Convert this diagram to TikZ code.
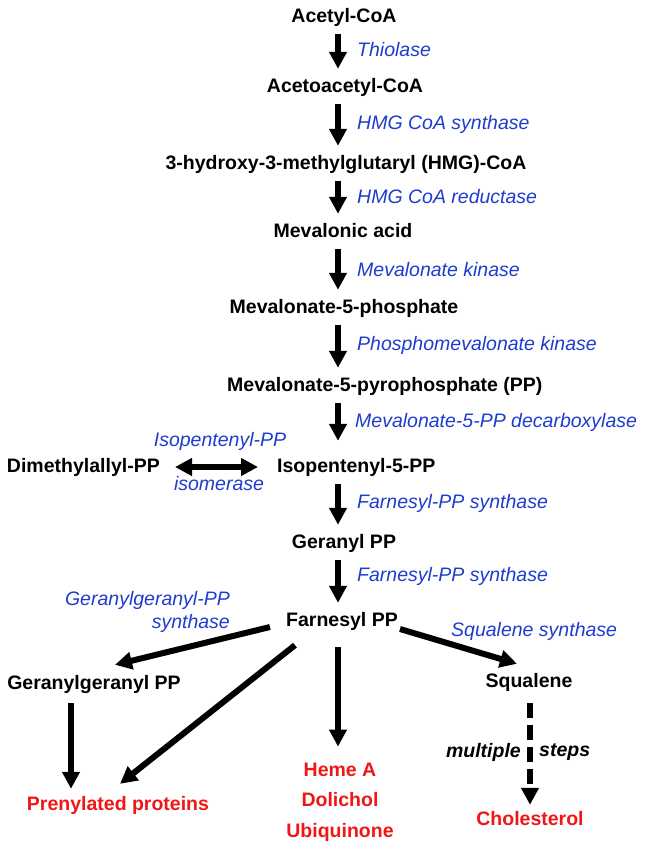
\documentclass[tikz,border=0pt]{standalone}
\usepackage{fontspec}
\setmainfont{Liberation Sans}
\usetikzlibrary{arrows.meta}
\definecolor{enzblue}{RGB}{30,60,205}
\definecolor{prodred}{RGB}{240,22,22}
\begin{document}
\begin{tikzpicture}[x=1pt, y=-1pt, font=\fontsize{19.5}{23.5}\selectfont,
      >={Triangle[length=17pt,width=17pt]},
      cmpd/.style={font=\fontsize{19.5}{23.5}\selectfont\bfseries, inner sep=0pt, text height=14pt, text depth=4pt},
      endprod/.style={cmpd, text=prodred},
      enz/.style={text=enzblue, font=\fontsize{19.5}{23.5}\selectfont\itshape, inner sep=0pt, anchor=west},
      arr/.style={->, line width=6pt},
      colarr/.style={arr, shorten <=8pt, shorten >=9pt}]
    \useasboundingbox (0,0) rectangle (645,849);
    \coordinate (col) at (338,0);
    % main column
    \node[cmpd] (acetyl) at (344,17) {Acetyl-CoA};
    \node[cmpd] (acetoacetyl) at (345,87) {Acetoacetyl-CoA};
    \node[cmpd] (hmg) at (346,164) {3-hydroxy-3-methylglutaryl (HMG)-CoA};
    \node[cmpd] (mevalonic) at (343,232) {Mevalonic acid};
    \node[cmpd] (mevp) at (344,308) {Mevalonate-5-phosphate};
    \node[cmpd, anchor=west] (mevpp) at (227,386) {Mevalonate-5-pyrophosphate (PP)};
    \node[cmpd, anchor=west] (ipp) at (277,467) {Isopentenyl-5-PP};
    \node[cmpd, anchor=east] (dma) at (160,467) {Dimethylallyl-PP};
    \node[cmpd] (geranyl) at (344,543) {Geranyl PP};
    \node[cmpd] (far) at (342,621) {Farnesyl PP};
    \node[cmpd] (gg) at (94,684) {Geranylgeranyl PP};
    \node[cmpd] (sq) at (529,682) {Squalene};
    % end products
    \node[endprod] (pren) at (118,805) {Prenylated proteins};
    \node[text=prodred, font=\fontsize{19.5}{30.5}\selectfont\bfseries, align=center, inner sep=0pt] (prod) at (340,802) {Heme A\\Dolichol\\Ubiquinone};
    \node[endprod] (chol) at (530,820) {Cholesterol};
    % enzymes
    \node[enz] (thiol) at (357,50) {Thiolase};
    \node[enz] (hmgs) at (357,124) {HMG CoA synthase};
    \node[enz] (hmgr) at (357,197) {HMG CoA reductase};
    \node[enz] (mvk) at (357,270) {Mevalonate kinase};
    \node[enz] (pmvk) at (357,345) {Phosphomevalonate kinase};
    \node[enz] (mdc) at (355,422) {Mevalonate-5-PP decarboxylase};
    \node[enz] (fps1) at (357,503) {Farnesyl-PP synthase};
    \node[enz] (fps2) at (357,576) {Farnesyl-PP synthase};
    \node[enz, anchor=center] (idi1) at (220,441) {Isopentenyl-PP};
    \node[enz, anchor=center] (idi2) at (219,484) {isomerase};
    \node[enz, anchor=east, align=right] (ggps) at (230,612) {Geranylgeranyl-PP\\synthase};
    \node[enz] (sqs) at (451,631) {Squalene synthase};
    \node[font=\fontsize{19.5}{23.5}\selectfont\bfseries\itshape, inner sep=0pt, anchor=east] (multi) at (521,752) {multiple};
    \node[font=\fontsize{19.5}{23.5}\selectfont\bfseries\itshape, inner sep=0pt, anchor=west] (steps) at (539,752) {steps};
    % arrows
    \draw[colarr] (acetyl.south -| col) -- (acetoacetyl.north -| col);
    \draw[colarr] (acetoacetyl.south -| col) -- (hmg.north -| col);
    \draw[colarr] (hmg.south -| col) -- (mevalonic.north -| col);
    \draw[colarr] (mevalonic.south -| col) -- (mevp.north -| col);
    \draw[colarr] (mevp.south -| col) -- (mevpp.north -| col);
    \draw[colarr, shorten >=17pt] (mevpp.south -| col) -- (ipp.north -| col);
    \draw[colarr] (ipp.south -| col) -- (geranyl.north -| col);
    \draw[colarr] (geranyl.south -| col) -- (far.north -| col);
    \draw[arr, <->, shorten <=15pt, shorten >=19pt] (dma.east) -- (ipp.west);
    \draw[arr] ([xshift=-16pt,yshift=-6pt]far.west) -- ([xshift=21pt,yshift=10pt]gg.north);
    \draw[arr] ([xshift=9pt,yshift=-15pt]far.south west) -- ([xshift=2pt,yshift=12pt]pren.north);
    \draw[arr, shorten <=17pt, shorten >=16pt] (far.south -| col) -- (prod.north -| col);
    \draw[arr] ([xshift=2pt,yshift=-8pt]far.east) -- ([xshift=-12pt,yshift=9pt]sq.north);
    \draw[arr] ([xshift=-23pt,yshift=-10pt]gg.south) -- ([xshift=-47pt,yshift=7pt]pren.north);
    \draw[arr, dash pattern=on 15pt off 7pt, shorten <=12pt, shorten >=6pt] (sq.south -| chol) -- (chol.north);
  \end{tikzpicture}
\end{document}
